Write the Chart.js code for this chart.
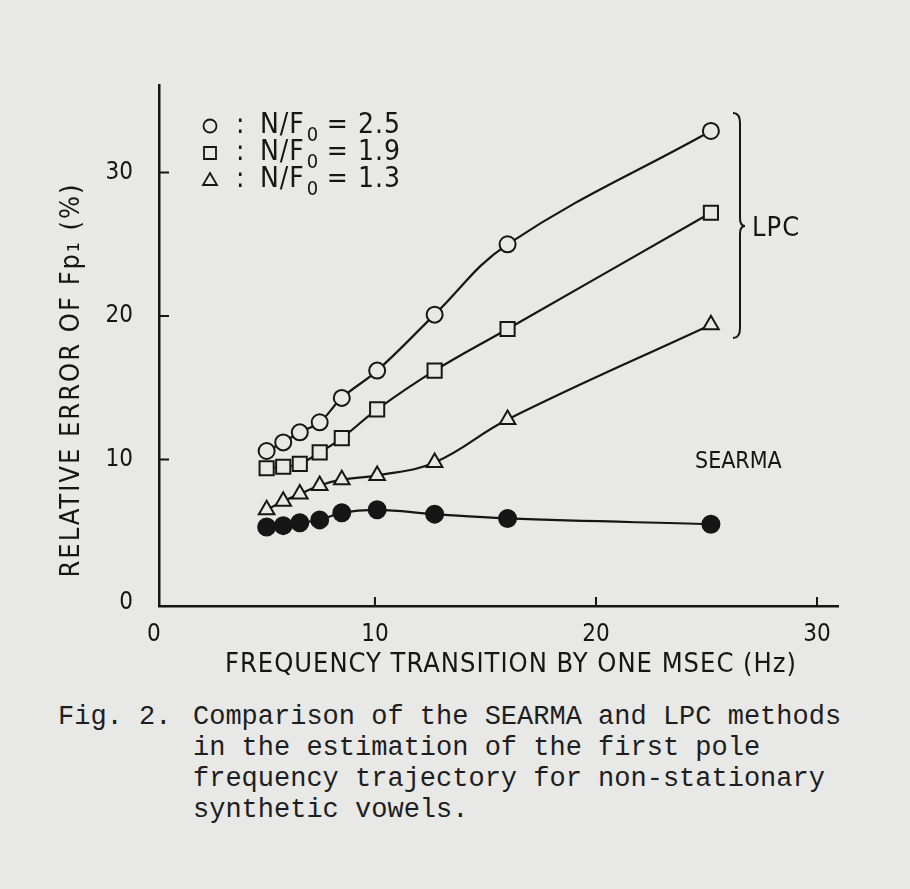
<!DOCTYPE html>
<html>
<head>
<meta charset="utf-8">
<script src="https://cdn.jsdelivr.net/npm/chart.js@4.4.1/dist/chart.umd.min.js"></script>
<style>
  html, body { margin: 0; padding: 0; background: #e8e8e6; }
  #wrap { position: relative; width: 910px; height: 889px; overflow: hidden; }
  #plot { position: absolute; left: 0; top: 0; }
  .cap { position: absolute; font-family: 'Liberation Mono', 'DejaVu Sans Mono', monospace; font-size: 27px; color: #1e1e1e; white-space: nowrap; }
</style>
</head>
<body>
<div id="wrap">
  <canvas id="plot" width="910" height="700"></canvas>
  <div class="cap" style="left:58px; top:702px;">Fig. 2.</div>
  <div class="cap" style="left:193px; top:702px;">Comparison of the SEARMA and LPC methods</div>
  <div class="cap" style="left:193px; top:733px;">in the estimation of the first pole</div>
  <div class="cap" style="left:193px; top:764px;">frequency trajectory for non-stationary</div>
  <div class="cap" style="left:193px; top:795px;">synthetic vowels.</div>
</div>
<script>
// values
const freqHz = [5.1, 5.85, 6.6, 7.5, 8.5, 10.1, 12.7, 16.0, 25.2];
const lpc25 = [10.6, 11.2, 11.9, 12.6, 14.3, 16.2, 20.1, 25.0, 32.9];
const lpc19 = [9.4, 9.5, 9.7, 10.5, 11.5, 13.5, 16.2, 19.1, 27.2];
const lpc13 = [6.5, 7.1, 7.6, 8.2, 8.6, 8.9, 9.8, 12.8, 19.4];
const searma = [5.3, 5.4, 5.6, 5.8, 6.3, 6.5, 6.2, 5.9, 5.5];

const xTicks = [0, 10, 20, 30];
const yTicks = [0, 10, 20, 30];
const legendRows = ['2.5', '1.9', '1.3'];

const FONT = "'Liberation Sans Narrow', 'DejaVu Sans Condensed', sans-serif";
const INK = '#161616';
const PAPER = '#e8e8e6';

function pts(ys) {
    return freqHz.map((x, i) => ({ x: x, y: ys[i] }));
}

function series(label, ys, style, radius, filled) {
    return {
        label: label,
        data: pts(ys),
        borderColor: INK,
        borderWidth: 2.2,
        pointStyle: style,
        pointRadius: radius,
        pointHoverRadius: radius,
        pointBorderWidth: 2,
        pointBorderColor: INK,
        pointBackgroundColor: filled ? INK : PAPER,
        tension: 0.4,
        fill: false
    };
}

// inward ticks, axis titles, legend, brace and the two method labels
const extras = {
    id: 'extras',
    afterDraw(chart) {
        const ctx = chart.ctx;
        const xs = chart.scales.x, ys = chart.scales.y;
        const area = chart.chartArea;
        ctx.save();
        ctx.strokeStyle = INK;
        ctx.fillStyle = INK;
        ctx.lineWidth = 2;
        ctx.beginPath();
        xTicks.filter(v => v > 0).forEach(v => {
            const px = xs.getPixelForValue(v);
            ctx.moveTo(px, area.bottom);
            ctx.lineTo(px, area.bottom - 9);
        });
        yTicks.filter(v => v > 0).forEach(v => {
            const py = ys.getPixelForValue(v);
            ctx.moveTo(area.left, py);
            ctx.lineTo(area.left + 10, py);
        });
        ctx.stroke();

        // axis titles
        ctx.textAlign = 'center';
        ctx.textBaseline = 'middle';
        ctx.font = '27px ' + FONT;
        ctx.letterSpacing = '1px';
        ctx.fillText('FREQUENCY TRANSITION BY ONE MSEC (Hz)', 511, 665);
        ctx.save();
        ctx.translate(72, 380);
        ctx.rotate(-Math.PI / 2);
        ctx.letterSpacing = '2px';
        ctx.fillText('RELATIVE ERROR OF Fp\u2081 (%)', 0, 0);
        ctx.restore();

        // legend
        const lx = area.left + 51, ly = area.top + 41, step = 27;
        ctx.lineWidth = 1.8;
        ctx.letterSpacing = '1px';
        legendRows.forEach((val, i) => {
            const cy = ly + i * step;
            ctx.beginPath();
            if (i === 0) {
                ctx.arc(lx, cy, 6.5, 0, Math.PI * 2);
            } else if (i === 1) {
                ctx.rect(lx - 6, cy - 6, 12, 12);
            } else {
                ctx.moveTo(lx, cy - 7);
                ctx.lineTo(lx + 7, cy + 5);
                ctx.lineTo(lx - 7, cy + 5);
                ctx.closePath();
            }
            ctx.stroke();
            ctx.font = '28px ' + FONT;
            ctx.textBaseline = 'middle';
            ctx.textAlign = 'left';
            ctx.fillText(':', lx + 26, cy);
            ctx.fillText('N/F', lx + 50, cy);
            const w = ctx.measureText('N/F').width;
            ctx.font = '20px ' + FONT;
            ctx.fillText('0', lx + 52 + w, cy + 10);
            ctx.font = '28px ' + FONT;
            ctx.fillText('= ' + val, lx + 72 + w, cy);
        });

        // brace for LPC
        const bx = 733, top = 113, bot = 338, mid = 226;
        ctx.lineWidth = 2;
        ctx.beginPath();
        ctx.moveTo(bx, top);
        ctx.quadraticCurveTo(bx + 7, top, bx + 7, top + 10);
        ctx.lineTo(bx + 7, mid - 8);
        ctx.quadraticCurveTo(bx + 7, mid, bx + 12, mid);
        ctx.quadraticCurveTo(bx + 7, mid, bx + 7, mid + 8);
        ctx.lineTo(bx + 7, bot - 10);
        ctx.quadraticCurveTo(bx + 7, bot, bx, bot);
        ctx.stroke();

        ctx.textAlign = 'left';
        ctx.textBaseline = 'middle';
        ctx.letterSpacing = '1px';
        ctx.font = '27px ' + FONT;
        ctx.fillText('LPC', 752, 229);
        ctx.letterSpacing = '0px';
        ctx.font = '23px ' + FONT;
        ctx.fillText('SEARMA', 695, 462);
        ctx.restore();
    }
};

new Chart(document.getElementById('plot'), {
    type: 'line',
    data: {
        datasets: [
            series('N/F0 = 2.5', lpc25, 'circle', 8, false),
            series('N/F0 = 1.9', lpc19, 'rect', 10, false),
            series('N/F0 = 1.3', lpc13, 'triangle', 9, false),
            series('SEARMA', searma, 'circle', 8.5, true)
        ]
    },
    options: {
        responsive: false,
        animation: false,
        events: [],
        layout: { padding: { top: 85, right: 72, left: 0, bottom: 0 } },
        plugins: {
            legend: { display: false },
            tooltip: { enabled: false }
        },
        scales: {
            x: {
                type: 'linear',
                min: 0.23,
                max: 30.95,
                afterFit: s => { s.height = 94; },
                afterBuildTicks: s => { s.ticks = xTicks.map(v => ({ value: v })); },
                grid: { display: true, drawOnChartArea: false, drawTicks: false },
                border: { display: true, color: INK, width: 2.5 },
                ticks: { color: INK, padding: 14, font: { family: FONT, size: 24 }, maxRotation: 0 }
            },
            y: {
                type: 'linear',
                min: -0.2,
                max: 36.1,
                afterFit: s => { s.width = 159; },
                afterBuildTicks: s => { s.ticks = yTicks.map(v => ({ value: v })); },
                grid: { display: true, drawOnChartArea: false, drawTicks: false },
                border: { display: true, color: INK, width: 2.5 },
                ticks: { color: INK, padding: 26, font: { family: FONT, size: 24 } }
            }
        }
    },
    plugins: [extras]
});
</script>
</body>
</html>
